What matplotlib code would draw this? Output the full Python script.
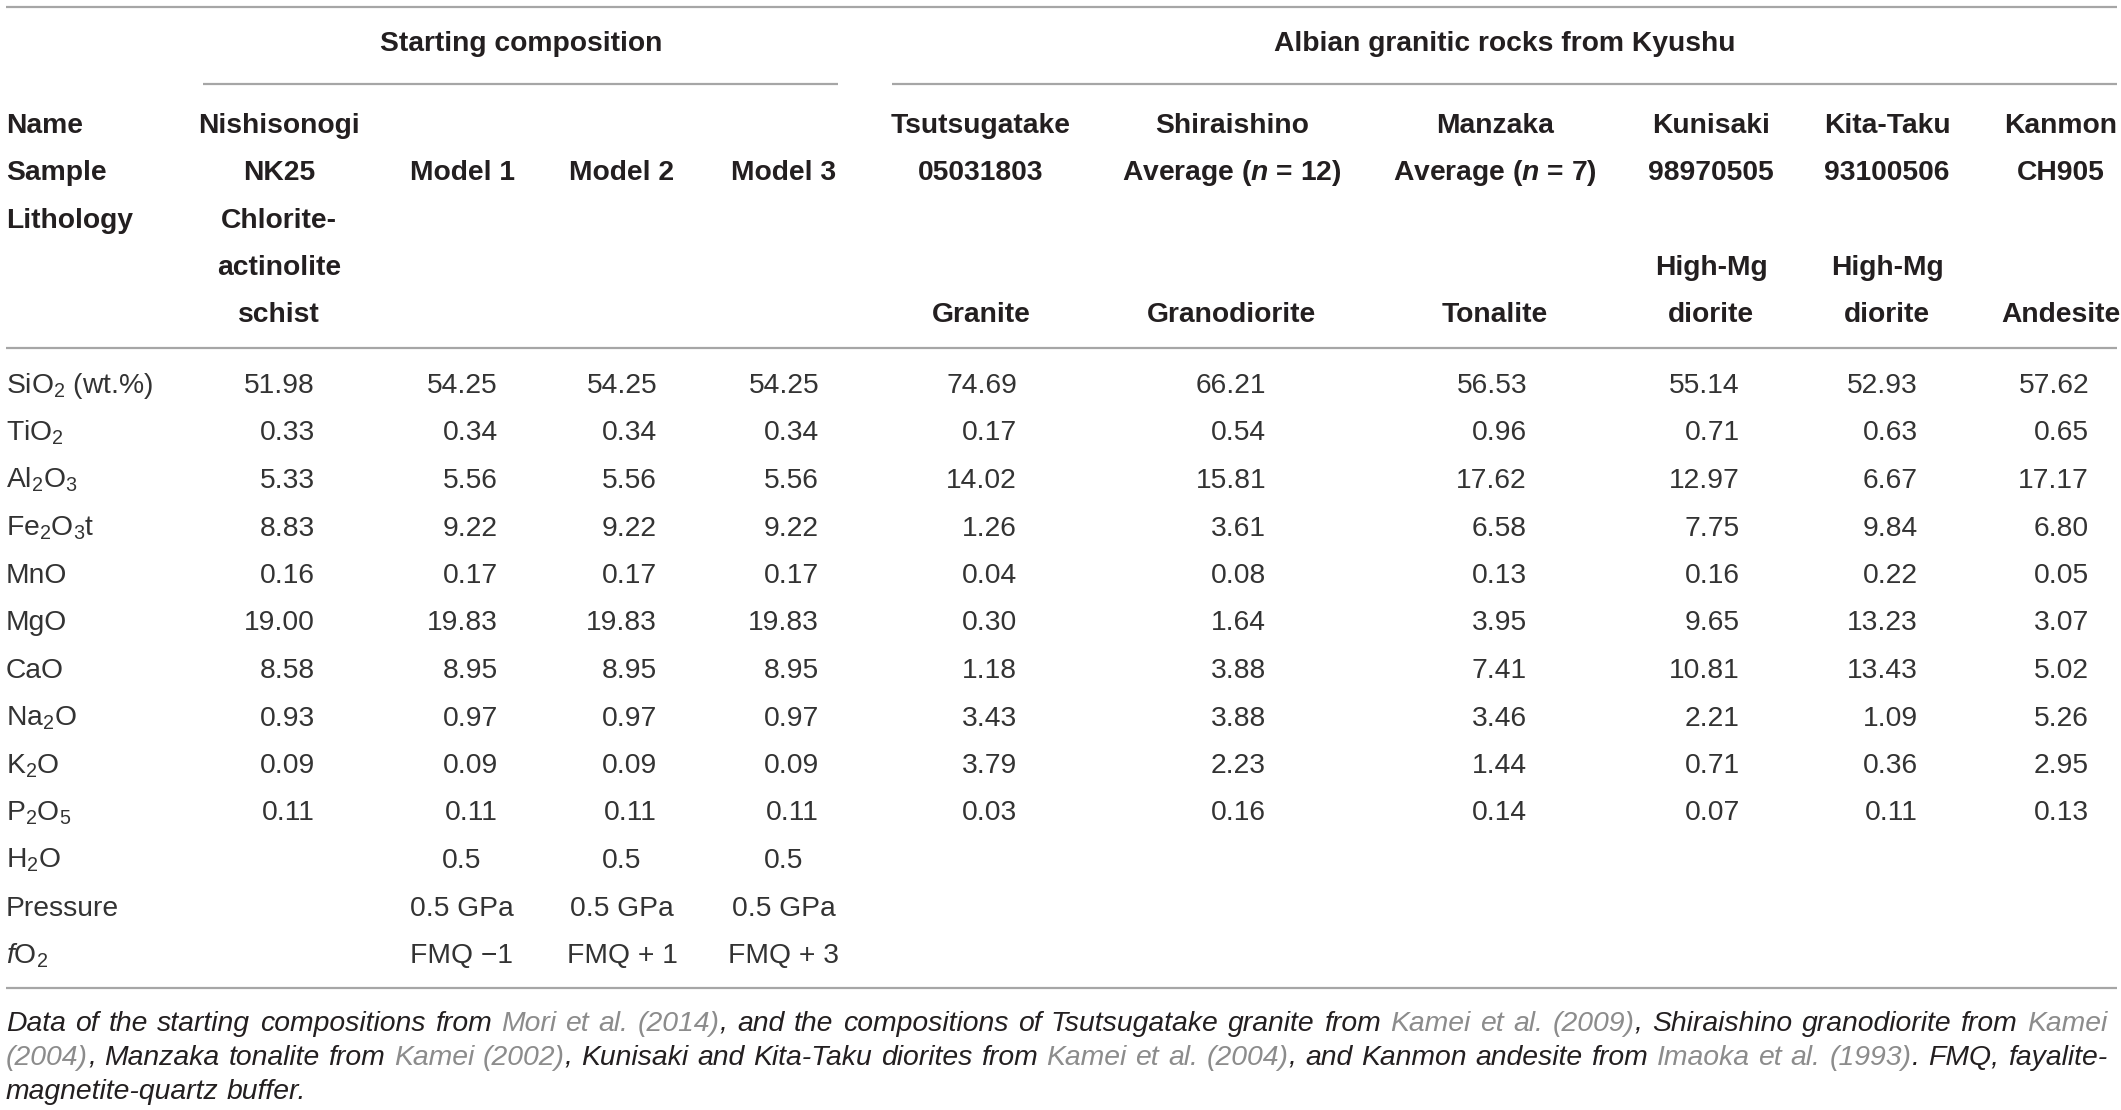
import matplotlib
matplotlib.use("Agg")
import matplotlib.pyplot as plt

plt.rcParams['font.family'] = ['Liberation Sans', 'DejaVu Sans']
plt.rcParams['mathtext.fontset'] = 'custom'
plt.rcParams['mathtext.rm'] = 'Liberation Sans'
plt.rcParams['mathtext.it'] = 'Liberation Sans:italic'
plt.rcParams['mathtext.sf'] = 'Liberation Sans:italic:bold'

# ---- table content ----
group_titles = ['Starting composition', 'Albian granitic rocks from Kyushu']
header_labels = ['Name', 'Sample', 'Lithology']

# five header lines per column ('' = empty line)
col_headers = [
    ['Nishisonogi', 'NK25', 'Chlorite-', 'actinolite', 'schist'],
    ['', 'Model 1', '', '', ''],
    ['', 'Model 2', '', '', ''],
    ['', 'Model 3', '', '', ''],
    ['Tsutsugatake', '05031803', '', '', 'Granite'],
    ['Shiraishino', r'Average ($\mathsf{n}$ = 12)', '', '', 'Granodiorite'],
    ['Manzaka', r'Average ($\mathsf{n}$ = 7)', '', '', 'Tonalite'],
    ['Kunisaki', '98970505', '', 'High-Mg', 'diorite'],
    ['Kita-Taku', '93100506', '', 'High-Mg', 'diorite'],
    ['Kanmon', 'CH905', '', '', 'Andesite'],
]

oxides = ['SiO${}_2$ (wt.%)', 'TiO${}_2$', 'Al${}_2$O${}_3$', 'Fe${}_2$O${}_3$t', 'MnO',
          'MgO', 'CaO', 'Na${}_2$O', 'K${}_2$O', 'P${}_2$O${}_5$']
extra_rows = ['H${}_2$O', 'Pressure', r'$\mathit{f}$O${}_2$']

nishisonogi = [51.98, 0.33, 5.33, 8.83, 0.16, 19.00, 8.58, 0.93, 0.09, 0.11]
model1 = [54.25, 0.34, 5.56, 9.22, 0.17, 19.83, 8.95, 0.97, 0.09, 0.11]
model2 = [54.25, 0.34, 5.56, 9.22, 0.17, 19.83, 8.95, 0.97, 0.09, 0.11]
model3 = [54.25, 0.34, 5.56, 9.22, 0.17, 19.83, 8.95, 0.97, 0.09, 0.11]
tsutsugatake = [74.69, 0.17, 14.02, 1.26, 0.04, 0.30, 1.18, 3.43, 3.79, 0.03]
shiraishino = [66.21, 0.54, 15.81, 3.61, 0.08, 1.64, 3.88, 3.88, 2.23, 0.16]
manzaka = [56.53, 0.96, 17.62, 6.58, 0.13, 3.95, 7.41, 3.46, 1.44, 0.14]
kunisaki = [55.14, 0.71, 12.97, 7.75, 0.16, 9.65, 10.81, 2.21, 0.71, 0.07]
kita_taku = [52.93, 0.63, 6.67, 9.84, 0.22, 13.23, 13.43, 1.09, 0.36, 0.11]
kanmon = [57.62, 0.65, 17.17, 6.80, 0.05, 3.07, 5.02, 5.26, 2.95, 0.13]
columns = [nishisonogi, model1, model2, model3, tsutsugatake,
           shiraishino, manzaka, kunisaki, kita_taku, kanmon]

model_h2o = ['0.5', '0.5', '0.5']
model_pressure = ['0.5 GPa', '0.5 GPa', '0.5 GPa']
model_fo2 = ['FMQ \u22121', 'FMQ + 1', 'FMQ + 3']

DARK, GREY_REF, RULE = '#231f20', '#8c8c8c', '#a6a6a6'
footnote = [
    [("Data of the starting compositions from ", DARK), ("Mori et al. (2014)", GREY_REF),
     (", and the compositions of Tsutsugatake granite from ", DARK),
     ("Kamei et al. (2009)", GREY_REF), (", Shiraishino granodiorite from ", DARK),
     ("Kamei", GREY_REF)],
    [("(2004)", GREY_REF), (", Manzaka tonalite from ", DARK), ("Kamei (2002)", GREY_REF),
     (", Kunisaki and Kita-Taku diorites from ", DARK), ("Kamei et al. (2004)", GREY_REF),
     (", and Kanmon andesite from ", DARK), ("Imaoka et al. (1993)", GREY_REF),
     (". FMQ, fayalite-", DARK)],
    [("magnetite-quartz buffer.", DARK)],
]

# ---- layout (pixels) ----
W, H = 2121, 1110
fs = 20.3
col_center = [279, 462, 622, 784, 981, 1232, 1495, 1711, 1887, 2061]
num_right = [315, 498, 657, 819, 1017, 1266, 1527, 1740, 1918, 2089]
group_center = [521, 1505]
group_span = [(203, 838), (892, 2117)]
head_y = [123, 170, 218, 265, 312]
row_y0, row_dy = 383, 47.5
base = 10  # baseline offset from row centre
note_x0, note_x1 = 6, 2107

fig = plt.figure(figsize=(W / 100, H / 100), dpi=100)
ax = fig.add_axes([0, 0, 1, 1])
ax.set_xlim(0, W)
ax.set_ylim(H, 0)
ax.axis('off')

# rules
ax.hlines([7, 348, 988], 6, 2117, color=RULE, lw=1.6)
for (x0, x1) in group_span:
    ax.hlines(84, x0, x1, color=RULE, lw=1.6)

# group titles
for title, xc in zip(group_titles, group_center):
    ax.text(xc, 41 + base, title, ha='center', va='baseline', fontsize=fs,
            fontweight='bold', color=DARK)

# header block
for lab, y in zip(header_labels, head_y):
    ax.text(6, y + base, lab, ha='left', va='baseline', fontsize=fs,
            fontweight='bold', color=DARK)
for lines, xc in zip(col_headers, col_center):
    for txt, y in zip(lines, head_y):
        if txt:
            ax.text(xc, y + base, txt, ha='center', va='baseline', fontsize=fs,
                    fontweight='bold', color=DARK)

# body
row_y = [row_y0 + i * row_dy for i in range(len(oxides) + len(extra_rows))]
for lab, y in zip(oxides + extra_rows, row_y):
    ax.text(6, y + base, lab, ha='left', va='baseline', fontsize=fs, color='#333333')

for vals, xr in zip(columns, num_right):
    for v, y in zip(vals, row_y):
        ax.text(xr, y + base, f'{v:.2f}', ha='right', va='baseline', fontsize=fs,
                color='#333333')

for k in range(3):
    xc = col_center[1 + k]
    for txt, y in zip([model_h2o[k], model_pressure[k], model_fo2[k]], row_y[len(oxides):]):
        ax.text(xc, y + base, txt, ha='center', va='baseline', fontsize=fs, color='#333333')

# footnote, justified to the table width
renderer = fig.canvas.get_renderer()


def width_of(s, size):
    t = ax.text(0, 0, s, fontsize=size, style='italic')
    w = t.get_window_extent(renderer).width
    t.remove()
    return w


# pick the footnote size so the first line just fills the width
line1 = ''.join(s for s, _ in footnote[0])
fs_note = 14.0 * (note_x1 - note_x0) / width_of(line1, 14.0) * 0.985


def draw_note_line(segments, y, x0, x1, justify):
    words, cur = [], []
    for txt, col in segments:
        parts = txt.split(' ')
        for i, p in enumerate(parts):
            if i > 0:
                if cur:
                    words.append(cur)
                cur = []
            if p:
                cur.append((p, col))
    if cur:
        words.append(cur)
    widths = [[width_of(p, fs_note) for p, _ in wd] for wd in words]
    total = sum(sum(w) for w in widths)
    if justify and len(words) > 1:
        gap = (x1 - x0 - total) / (len(words) - 1)
    else:
        gap = 0.278 * fs_note * 100 / 72
    x = x0
    for wd, ws in zip(words, widths):
        for (p, col), w in zip(wd, ws):
            ax.text(x, y, p, ha='left', va='baseline', fontsize=fs_note,
                    style='italic', color=col)
            x += w
        x += gap


note_y = [1021, 1055, 1089]
for i, (segs, y) in enumerate(zip(footnote, note_y)):
    draw_note_line(segs, y + 10, note_x0, note_x1, justify=(i < len(footnote) - 1))

fig.savefig('out.png', dpi=100)
